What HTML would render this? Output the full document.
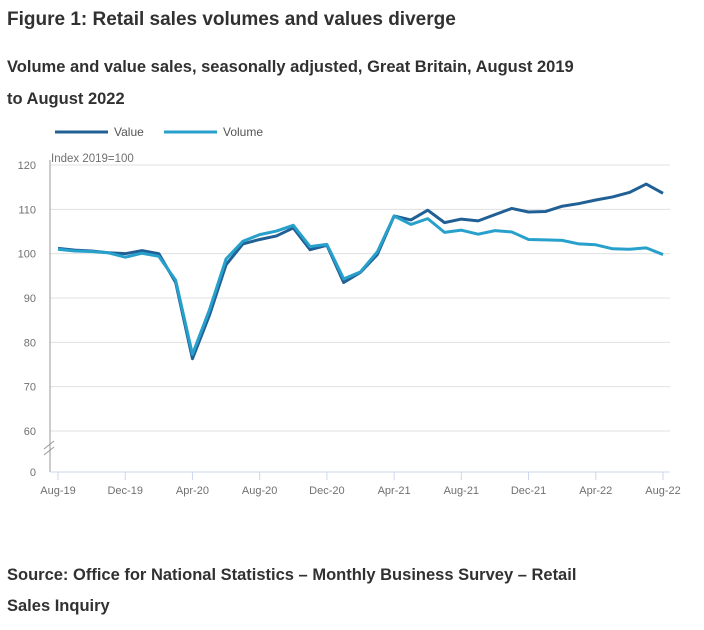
<!DOCTYPE html>
<html><head><meta charset="utf-8"><style>
body{margin:0;width:704px;height:625px;background:#fff;font-family:"Liberation Sans",sans-serif;color:#323132;overflow:hidden;position:relative}
.t{position:absolute;left:7px;font-weight:bold;white-space:nowrap}
</style></head><body>
<div class="t" style="top:9px;font-size:19px">Figure 1: Retail sales volumes and values diverge</div>
<div class="t" style="top:51px;font-size:16.5px;line-height:32px">Volume and value sales, seasonally adjusted, Great Britain, August 2019<br>to August 2022</div>
<svg id="c" width="704" height="520" style="position:absolute;left:0;top:110px" viewBox="0 110 704 520"></svg>
<div class="t" style="top:560px;font-size:16.5px;line-height:31px">Source: Office for National Statistics – Monthly Business Survey – Retail<br>Sales Inquiry</div>
<script>
const months = ["Aug-19","Sep-19","Oct-19","Nov-19","Dec-19","Jan-20","Feb-20","Mar-20","Apr-20","May-20","Jun-20","Jul-20","Aug-20","Sep-20","Oct-20","Nov-20","Dec-20","Jan-21","Feb-21","Mar-21","Apr-21","May-21","Jun-21","Jul-21","Aug-21","Sep-21","Oct-21","Nov-21","Dec-21","Jan-22","Feb-22","Mar-22","Apr-22","May-22","Jun-22","Jul-22","Aug-22"];
const valueSeries = [101.2,100.8,100.6,100.2,100.0,100.7,100.0,93.5,76.3,86.0,97.5,102.2,103.2,104.0,105.8,100.9,101.9,93.5,95.8,99.8,108.5,107.6,109.8,107.0,107.8,107.4,108.8,110.2,109.4,109.5,110.7,111.3,112.1,112.8,113.8,115.7,113.6];
const volumeSeries = [101.0,100.6,100.5,100.2,99.2,100.1,99.4,94.0,77.3,87.2,98.8,102.8,104.3,105.1,106.4,101.6,102.1,94.3,95.9,100.4,108.5,106.6,107.9,104.8,105.3,104.4,105.2,104.9,103.2,103.1,103.0,102.2,102.0,101.1,101.0,101.3,99.8];
const yTicks = [120,110,100,90,80,70,60];
const xTickLabels = ["Aug-19","Dec-19","Apr-20","Aug-20","Dec-20","Apr-21","Aug-21","Dec-21","Apr-22","Aug-22"];

const svg=document.getElementById('c');
const NS='http://www.w3.org/2000/svg';
const X0=58,X1=663,L=50,R=670,Y120=165,Y60=431,YB=472;
const x=i=>X0+(X1-X0)*i/(months.length-1);
const y=v=>Y60+(Y120-Y60)*(v-60)/60;
function mk(t,a,txt){const e=document.createElementNS(NS,t);for(const k in a)e.setAttribute(k,a[k]);if(txt!=null)e.textContent=txt;svg.appendChild(e);return e;}
yTicks.forEach(v=>{
  const g=mk('line',{x1:L,x2:R,y1:y(v),y2:y(v),stroke:'#e0e0e0','stroke-width':1});
  
  
  const t=mk('text',{x:36,y:y(v)+4,'text-anchor':'end','font-size':11,fill:'#707070','font-family':'Liberation Sans, sans-serif'},v);
  
  
});
const z=mk('text',{x:36,y:YB+4,'text-anchor':'end','font-size':11,fill:'#707070','font-family':'Liberation Sans, sans-serif'},'0');


const ya=mk('line',{x1:L,x2:L,y1:Y120-5,y2:YB,stroke:'#999','stroke-width':1});


const br=mk('path',{d:`M${L-6} 449 L${L+4} 441 M${L-6} 455 L${L+4} 447`,stroke:'#999',fill:'none'});


const xa=mk('line',{x1:L,x2:R,y1:YB,y2:YB,stroke:'#ccd6eb','stroke-width':1});


xTickLabels.forEach(lab=>{
  const i=months.indexOf(lab);
  const tk=mk('line',{x1:x(i),x2:x(i),y1:YB,y2:YB+8,stroke:'#ccd6eb'});
  
  
  const t=mk('text',{x:x(i),y:YB+22,'text-anchor':'middle','font-size':11,fill:'#707070','font-family':'Liberation Sans, sans-serif'},lab);
  
  
});
const yt=mk('text',{x:51,y:162,'font-size':11.5,fill:'#707070','font-family':'Liberation Sans, sans-serif'},'Index 2019=100');


function line(d,col,name){
  const p=mk('polyline',{points:d.map((v,i)=>x(i)+','+y(v)).join(' '),fill:'none',stroke:col,'stroke-width':3,'stroke-linejoin':'round'});
  
  
}
line(valueSeries,'#206095','value-line');
line(volumeSeries,'#27a0cc','volume-line');
[['Value','#206095',55],['Volume','#27a0cc',164]].forEach(([n,c,lx])=>{
  const g=mk('line',{x1:lx,x2:lx+53,y1:132,y2:132,stroke:c,'stroke-width':3});
  
  
  const t=mk('text',{x:lx+59,y:136,'font-size':12,fill:'#555','font-family':'Liberation Sans, sans-serif'},n);
  
  
});
</script>
</body></html>
